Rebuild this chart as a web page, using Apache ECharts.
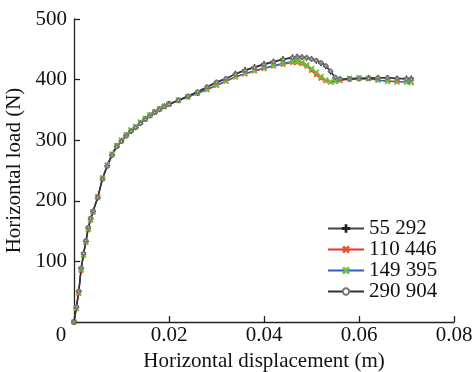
<!DOCTYPE html>
<html><head><meta charset="utf-8">
<script src="https://cdn.jsdelivr.net/npm/echarts@6/dist/echarts.min.js"></script>
<style>html,body{margin:0;padding:0;background:#fff}#c{width:473px;height:372px}</style>
</head><body><div id="c"></div>
<script>
const seriesNames = ['55 292', '110 446', '149 395', '290 904'];
const xTicks = [0, 0.02, 0.04, 0.06, 0.08];
const yTicks = [0, 100, 200, 300, 400, 500];
const dispX = [0, .0005, .001, .0015, .002, .0025, .003, .0035, .004, .005, .006, .007, .008, .009, .010, .011, .012, .013, .014, .015, .016, .017, .018, .019, .020, .022, .024, .026, .028, .030, .032, .034, .036, .038, .040, .042, .044, .046, .047, .048, .049, .050, .051, .052, .053, .054, .055, .056, .058, .060, .062, .064, .066, .068, .070, .071];
const load55292 = [0,24,50,88,112,133,155,170,182,205,236,258,276,290,299,308,315,321,328,335,341,346,351,356,360,366,372,378,387,395,401,410,416,421,426,430,434,437,438,437,436,434,431,427,422,413,403,401,401,402,403,403,403,402,402,402];
const load110446 = [0,22,47,85,110,131,152,168,181,207,238,259,277,291,300,309,316,322,329,335,341,346,351,355,359,365,371,377,383,390,397,404,409,414,418,422,425,428,428,426,422,415,408,402,398,396,397,398,401,402,401,399,398,397,396,396];
const load149395 = [0,23,49,87,111,132,154,169,182,206,237,259,277,291,300,309,317,323,330,336,342,347,352,356,360,366,372,378,384,391,398,405,410,415,419,423,427,430,430,428,424,418,412,405,399,396,397,399,402,403,402,399,397,396,396,395];
const load290904 = [0,25,51,89,113,134,156,171,183,206,236,257,275,289,298,307,315,321,328,334,340,346,351,355,359,366,373,380,388,396,402,409,415,420,425,429,433,436,437,437,436,434,432,428,423,414,404,401,401,401,402,403,403,402,401,401];

const loads = [load55292, load110446, load149395, load290904];
const plus = 'path://M4.4,0H5.6V10H4.4ZM0,4.4H10V5.6H0Z';
const styles = [
  {line:'#444', mark:'#222', symbol: plus, size: 5, rot: 0, w: 1.2},
  {line:'#e8332a', mark:'#f0502a', symbol: plus, size: 5, rot: 45, w: 1.2},
  {line:'#2f5fcf', mark:'#6cc23a', symbol: plus, size: 6, rot: 45, w: 1.2},
  {line:'#333', mark:'#777', symbol: 'emptyCircle', size: 3, rot: 0, w: 1.5}
];
const font = 'Liberation Serif';
const chart = echarts.init(document.getElementById('c'), null, {renderer:'canvas'});
chart.setOption({
  animation: false,
  backgroundColor: '#fff',
  grid: {left: 74, right: 19, top: 19, bottom: 50, containLabel: false, outerBoundsMode: 'none'},
  legend: {
    orient: 'vertical', left: 322, top: 213, itemWidth: 36, itemHeight: 8, itemGap: 0,
    textStyle: {fontFamily: font, fontSize: 21, color: '#111', lineHeight: 19.5},
    data: seriesNames
  },
  xAxis: {
    type: 'value', min: xTicks[0], max: xTicks[xTicks.length-1], interval: 0.02,
    name: 'Horizontal displacement (m)', nameLocation: 'middle', nameGap: 23,
    nameTextStyle: {fontFamily: font, fontSize: 21, color: '#111'},
    axisLine: {onZero: false, lineStyle: {color: '#222', width: 1.3}},
    axisTick: {inside: true, length: 6, lineStyle: {color: '#222', width: 1.3}},
    splitLine: {show: false},
    axisLabel: {fontFamily: font, fontSize: 21, color: '#111', margin: 3,
      formatter: v => v === 0 ? '{z|0}' : v.toFixed(2),
      rich: {z: {fontFamily: font, fontSize: 21, color: '#111', padding: [0, 26, 0, 0]}}}
  },
  yAxis: {
    type: 'value', min: yTicks[0], max: yTicks[yTicks.length-1], interval: 100,
    name: 'Horizontal load (N)', nameLocation: 'middle', nameGap: 38,
    nameTextStyle: {fontFamily: font, fontSize: 21, color: '#111'},
    axisLine: {show: true, onZero: false, lineStyle: {color: '#222', width: 1.3}},
    axisTick: {show: true, inside: true, length: 6, lineStyle: {color: '#222', width: 1.3}},
    splitLine: {show: false},
    axisLabel: {fontFamily: font, fontSize: 21, color: '#111', margin: 7, showMinLabel: false}
  },
  series: seriesNames.map((n, i) => ({
    name: n, type: 'line',
    data: dispX.map((x, j) => [x, loads[i][j]]),
    symbol: styles[i].symbol, symbolSize: styles[i].size, symbolRotate: styles[i].rot,
    showAllSymbol: true,
    itemStyle: {color: styles[i].mark, borderColor: styles[i].mark, borderWidth: 1},
    lineStyle: {color: styles[i].line, width: styles[i].w}
  }))
});
</script></body></html>
